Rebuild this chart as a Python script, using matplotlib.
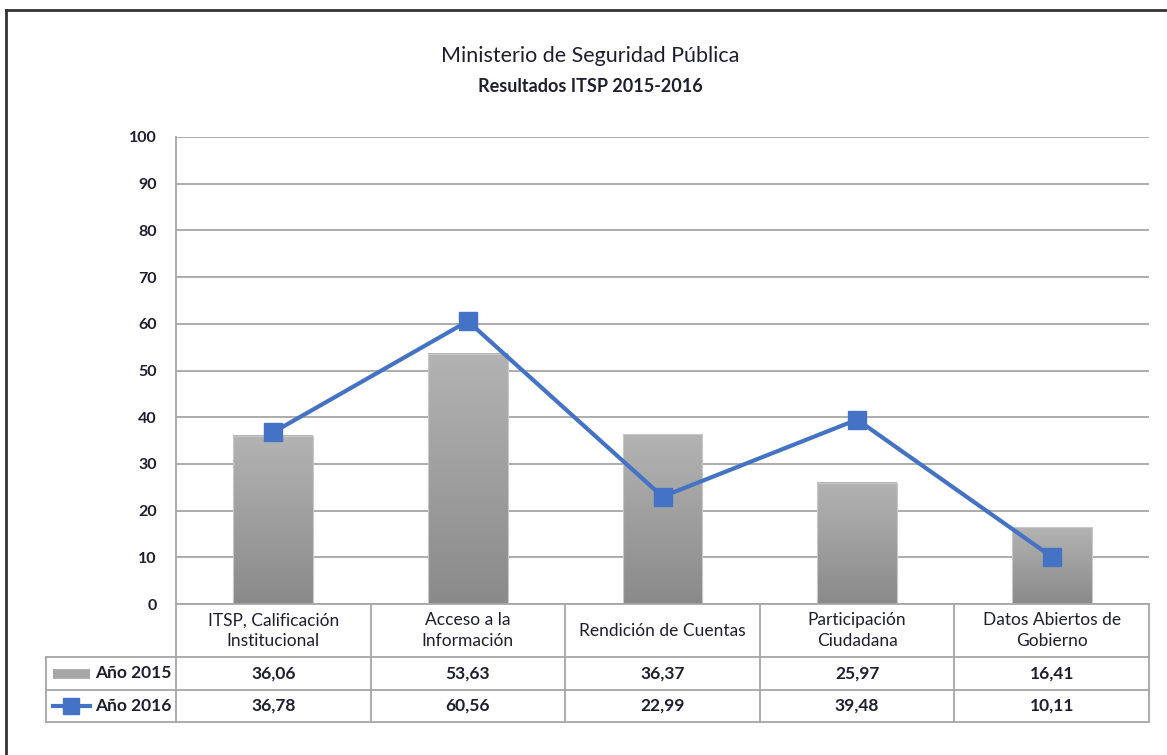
import matplotlib.pyplot as plt
import numpy as np
from matplotlib.colors import LinearSegmentedColormap
from matplotlib.lines import Line2D
from matplotlib.patches import Rectangle

categories = ['ITSP, Calificación\nInstitucional', 'Acceso a la\nInformación',
              'Rendición de Cuentas', 'Participación\nCiudadana',
              'Datos Abiertos de\nGobierno']
v2015 = [36.06, 53.63, 36.37, 25.97, 16.41]
v2016 = [36.78, 60.56, 22.99, 39.48, 10.11]
lab2015 = ['36,06', '53,63', '36,37', '25,97', '16,41']
lab2016 = ['36,78', '60,56', '22,99', '39,48', '10,11']
yticks = [0, 10, 20, 30, 40, 50, 60, 70, 80, 90, 100]

plt.rcParams['font.family'] = ['Lato', 'DejaVu Sans']
txt = '#1e1e2e'
grid = '#a6a6a6'
blue = '#4472C4'

fig = plt.figure(figsize=(11.67, 7.55), dpi=100)
ax = fig.add_axes([176 / 1167, 151 / 755, 973 / 1167, 467 / 755])

x = np.arange(len(categories))
w = 0.41
cmap = LinearSegmentedColormap.from_list('g', ['#8a8a8a', '#b3b3b3'])
grad = np.linspace(0, 1, 256).reshape(-1, 1)
for xi, v in zip(x, v2015):
    ax.imshow(grad, cmap=cmap, origin='lower', aspect='auto',
              extent=[xi - w / 2, xi + w / 2, 0, v], zorder=2)
    ax.add_patch(Rectangle((xi - w / 2, 0), w, v, fill=False,
                           edgecolor='#c8c8c8', lw=0.8, zorder=2))

ax.plot(x, v2016, color=blue, lw=3, marker='s', markersize=13, zorder=3)

ax.set_xlim(-0.5, len(categories) - 0.5)
ax.set_ylim(0, 100)
ax.set_yticks(yticks)
ax.set_yticklabels([str(t) for t in yticks], fontsize=11.5, fontweight='bold', color=txt)
ax.tick_params(axis='y', length=0, pad=14)
ax.set_xticks([])
ax.yaxis.grid(True, color=grid, lw=1.3)
ax.set_axisbelow(True)
for s in ['top', 'right', 'bottom']:
    ax.spines[s].set_visible(False)
ax.spines['left'].set_color(grid)
ax.spines['left'].set_linewidth(1.3)

# data table under the chart
ppu = 4.67
y_head = -53 / ppu
y_r1 = -86 / ppu
y_r2 = -118 / ppu
x_left = -0.5 - 130 / 194.6
x_right = len(categories) - 0.5
kw = dict(color=grid, lw=1.3, clip_on=False, transform=ax.transData)
ax.add_line(Line2D([-0.5, x_right], [0, 0], **kw))
ax.add_line(Line2D([x_left, x_right], [y_head, y_head], **kw))
ax.add_line(Line2D([x_left, x_right], [y_r1, y_r1], **kw))
ax.add_line(Line2D([x_left, x_right], [y_r2, y_r2], **kw))
ax.add_line(Line2D([x_left, x_left], [y_head, y_r2], **kw))
for b in np.arange(len(categories) + 1) - 0.5:
    ax.add_line(Line2D([b, b], [0, y_r2], **kw))

for xi, c, a, b in zip(x, categories, lab2015, lab2016):
    ax.text(xi, y_head / 2, c, ha='center', va='center', fontsize=12.5,
            color=txt, linespacing=1.35)
    ax.text(xi, (y_head + y_r1) / 2, a, ha='center', va='center',
            fontsize=12.5, fontweight='bold', color=txt)
    ax.text(xi, (y_r1 + y_r2) / 2, b, ha='center', va='center',
            fontsize=12.5, fontweight='bold', color=txt)

# legend keys in table
kx0 = x_left + 7 / 194.6
kx1 = x_left + 44 / 194.6
ym1 = (y_head + y_r1) / 2
ym2 = (y_r1 + y_r2) / 2
ax.add_line(Line2D([kx0, kx1], [ym1, ym1], color='#a6a6a6', lw=7,
                   solid_capstyle='butt', clip_on=False))
ax.add_line(Line2D([kx0, kx1], [ym2, ym2], color=blue, lw=3, clip_on=False))
ax.add_line(Line2D([(kx0 + kx1) / 2], [ym2], color=blue, marker='s',
                   markersize=11, clip_on=False))
ax.text(kx1 + 5 / 194.6, ym1, 'Año 2015', ha='left', va='center',
        fontsize=12.5, fontweight='bold', color=txt)
ax.text(kx1 + 5 / 194.6, ym2, 'Año 2016', ha='left', va='center',
        fontsize=12.5, fontweight='bold', color=txt)

# titles
fig.text(590 / 1167, 1 - 56 / 755, 'Ministerio de Seguridad Pública',
         ha='center', va='center', fontsize=15.5, color=txt)
fig.text(590 / 1167, 1 - 86 / 755, 'Resultados ITSP 2015-2016',
         ha='center', va='center', fontsize=13, fontweight='bold', color=txt)

# outer frame (only left and top edges are visible)
fig.add_artist(Line2D([6 / 1167, 6 / 1167], [0, 1 - 10 / 755],
                      color='#333333', lw=2))
fig.add_artist(Line2D([6 / 1167, 1], [1 - 10 / 755, 1 - 10 / 755],
                      color='#333333', lw=2))

fig.savefig('out.png', dpi=100)
